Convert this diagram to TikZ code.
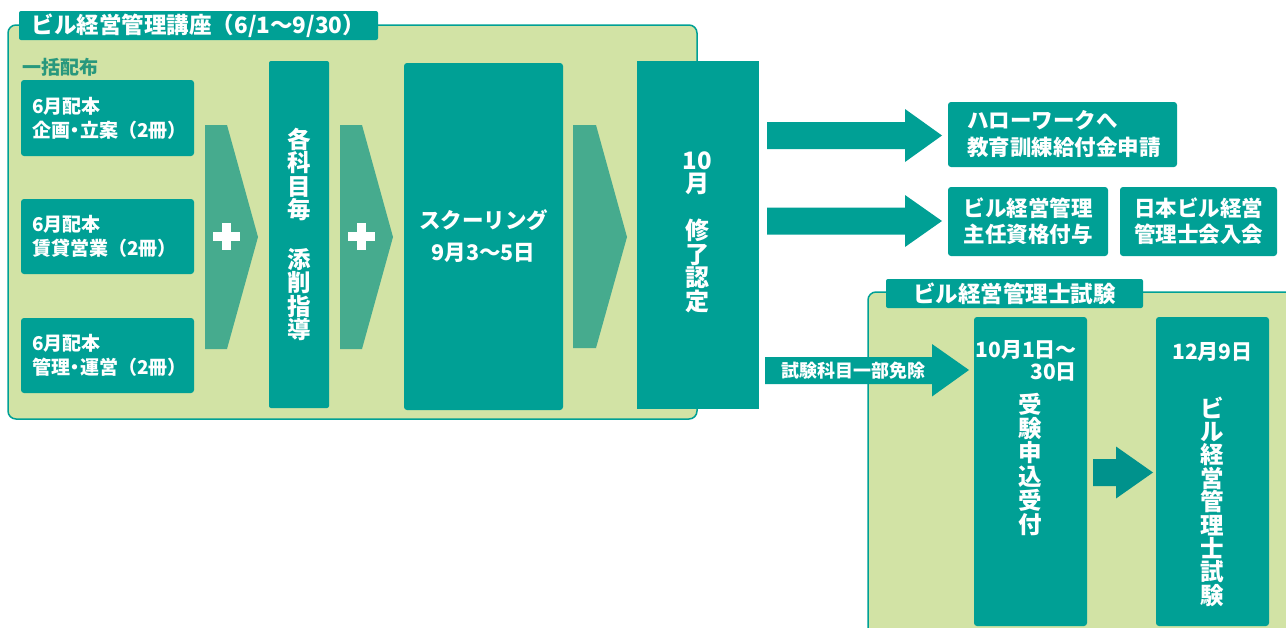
\documentclass[tikz,border=0pt]{standalone}
\usepackage{fontspec}
\setmainfont{Noto Sans CJK JP}
\definecolor{teal1}{RGB}{0,160,149}
\definecolor{panel}{RGB}{210,227,165}
\definecolor{chev}{RGB}{70,171,142}
\definecolor{label}{RGB}{40,152,125}
\definecolor{darrow}{RGB}{0,146,140}
\newcommand{\nakaguro}{\kern-4.5pt・\kern-4.5pt}
\tikzset{
  tbox/.style={fill=teal1, rounded corners=3pt, inner sep=0pt, text=white},
  sqbox/.style={fill=teal1, inner sep=0pt, text=white},
  panelbox/.style={fill=panel, draw=teal1, line width=1.5pt, rounded corners=8pt, inner sep=0pt},
  tab/.style={fill=teal1, rounded corners=2pt, inner sep=0pt, text=white, font=\bfseries\fontsize{22.5}{26}\selectfont},
  chevron/.style={fill=chev},
  plus/.style={draw=white, line width=8.5pt},
  bigarrow/.style={fill=teal1},
  wtext/.style={text=white, inner sep=0pt},
  smallf/.style={font=\bfseries\fontsize{19}{24}\selectfont},
  midf/.style={font=\bfseries\fontsize{21.5}{27}\selectfont},
  vertf/.style={font=\bfseries\fontsize{23.5}{23.5}\selectfont},
}
\begin{document}
\begin{tikzpicture}[x=1pt,y=-1pt]
\useasboundingbox (0,0) rectangle (1286,627);
\clip (0,0) rectangle (1286,627);
% course panel
\node[panelbox, minimum width=689pt, minimum height=394pt] (course) at (352.5,222) {};
\node[tab, minimum width=359pt, minimum height=29pt] (coursetitle) at (198.5,25.5) {ビル経営管理講座（6/1～9/30）};
\node[anchor=west, inner sep=0pt, text=label, font=\bfseries\fontsize{19}{22}\selectfont] (bulk) at (22,67) {一括配布};
% left boxes
\node[tbox, smallf, minimum width=173pt, minimum height=76pt, text width=151pt, inner xsep=11pt, align=left] (b1) at (107.5,118) {6月配本\\企画\nakaguro 立案（2冊）};
\node[tbox, smallf, minimum width=173pt, minimum height=75pt, text width=151pt, inner xsep=11pt, align=left] (b2) at (107.5,236.5) {6月配本\\賃貸営業（2冊）};
\node[tbox, smallf, minimum width=173pt, minimum height=75pt, text width=151pt, inner xsep=11pt, align=left] (b3) at (107.5,355.5) {6月配本\\管理\nakaguro 運営（2冊）};
% chevrons
\fill[chevron] (205,125) -- (227,125) -- (258,237) -- (227,349) -- (205,349) -- cycle;
\fill[chevron] (340,125) -- (362,125) -- (393,237) -- (362,349) -- (340,349) -- cycle;
\fill[chevron] (573,125) -- (596,125) -- (627,237) -- (596,348) -- (573,348) -- cycle;
\draw[plus] (213,236.5) -- (240,236.5) (226.5,223) -- (226.5,250);
\draw[plus] (348,236.5) -- (375,236.5) (361.5,223) -- (361.5,250);
% each subject
\node[tbox, rounded corners=2pt, minimum width=60pt, minimum height=347pt] (each) at (299,234.5) {};
\node[wtext, vertf, align=center] (eachtxt) at (each.center) {各\\科\\目\\毎\\[26pt]添\\削\\指\\導};
% schooling
\node[tbox, font=\bfseries\fontsize{21.5}{32}\selectfont, align=center, minimum width=159pt, minimum height=347pt] (school) at (483.5,236.5) {スクーリング\\9月3～5日};
% completion
\node[sqbox, minimum width=122pt, minimum height=348pt] (done) at (698,235) {};
\node[wtext, font=\bfseries\fontsize{24}{23.5}\selectfont, align=center] (donetxt) at (697,232) {10\\月\\[23.5pt]修\\了\\認\\定};
% arrows right
\fill[bigarrow] (767,122) -- (905,122) -- (905,109) -- (942,135.5) -- (905,162) -- (905,149) -- (767,149) -- cycle;
\fill[bigarrow] (767,207.5) -- (905,207.5) -- (905,195) -- (942,221) -- (905,247) -- (905,234.5) -- (767,234.5) -- cycle;
% right boxes
\node[tbox, midf, minimum width=229pt, minimum height=65pt, text width=191pt, inner xsep=19pt, align=left] (hello) at (1062.5,134.5) {ハローワークへ\\教育訓練給付金申請};
\node[tbox, font=\bfseries\fontsize{21.5}{26}\selectfont, align=center, minimum width=160pt, minimum height=69pt] (chief) at (1028,221.5) {ビル経営管理\\主任資格付与};
\node[tbox, font=\bfseries\fontsize{21.5}{26}\selectfont, align=center, minimum width=157pt, minimum height=69pt] (assoc) at (1198.5,221.5) {日本ビル経営\\管理士会入会};
% exam panel
\node[panelbox, minimum width=432pt, minimum height=348pt] (exam) at (1084,466) {};
\node[tab, minimum width=257pt, minimum height=29pt] (examtitle) at (1014.5,293.5) {ビル経営管理士試験};
\node[tbox, minimum width=113pt, minimum height=309pt] (apply) at (1030.5,471.5) {};
\node[tbox, minimum width=113pt, minimum height=309pt] (test) at (1212.5,471.5) {};
\node[wtext, font=\bfseries\fontsize{21}{22}\selectfont, anchor=east] (d1) at (1077,350) {10月1日～};
\node[wtext, font=\bfseries\fontsize{21}{22}\selectfont, anchor=east] (d2) at (1077,372) {30日};
\node[wtext, font=\bfseries\fontsize{21}{22}\selectfont] (d3) at (1212.5,352) {12月9日};
\node[wtext, font=\bfseries\fontsize{23.5}{24}\selectfont, align=center] (applytxt) at (1030.5,465) {受\\験\\申\\込\\受\\付};
\node[wtext, font=\bfseries\fontsize{23.5}{23.4}\selectfont, align=center] (testtxt) at (1212.5,501.5) {ビ\\ル\\経\\営\\管\\理\\士\\試\\験};
% exemption arrow
\fill[bigarrow] (765,357) -- (932,357) -- (932,344) -- (969,370) -- (932,396.5) -- (932,384) -- (765,384) -- cycle;
\node[wtext, font=\bfseries\fontsize{18}{20}\selectfont] (exempt) at (853.5,371) {試験科目一部免除};
% exam arrow
\fill[darrow] (1093,459) -- (1116,459) -- (1116,446.5) -- (1153,472.5) -- (1116,498.5) -- (1116,486) -- (1093,486) -- cycle;
\end{tikzpicture}
\end{document}
